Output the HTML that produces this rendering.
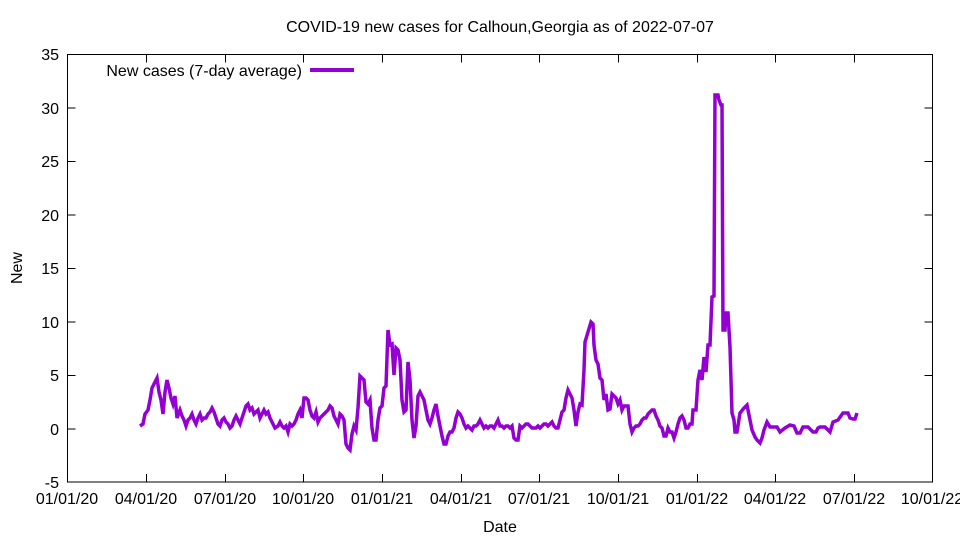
<!DOCTYPE html>
<html><head><meta charset="utf-8"><style>body{margin:0;background:#fff}svg{display:block}text{font-family:"Liberation Sans",sans-serif;font-size:16px;fill:#000}</style></head><body>
<svg width="960" height="540" viewBox="0 0 960 540">
<rect x="67.5" y="54.5" width="865" height="427.5" fill="none" stroke="#000" stroke-width="1"/>
<g stroke="#000" stroke-width="1">
<path d="M67.5 54.5h8M67.5 108h8M67.5 161.5h8M67.5 215h8M67.5 268.5h8M67.5 322h8M67.5 375.5h8M67.5 429h8M67.5 482h8"/>
<path d="M932.5 54.5h-8M932.5 108h-8M932.5 161.5h-8M932.5 215h-8M932.5 268.5h-8M932.5 322h-8M932.5 375.5h-8M932.5 429h-8"/>
<path d="M67.5 482v-8M146.5 482v-8M225.5 482v-8M303.5 482v-8M382.5 482v-8M461.5 482v-8M539.5 482v-8M618.5 482v-8M697.5 482v-8M775.5 482v-8M854.5 482v-8"/>
<path d="M67.5 54.5v8M146.5 54.5v8M225.5 54.5v8M303.5 54.5v8M382.5 54.5v8M461.5 54.5v8M539.5 54.5v8M618.5 54.5v8M697.5 54.5v8M775.5 54.5v8M854.5 54.5v8"/>
</g>
<g text-anchor="end">
<text x="59" y="60">35</text><text x="59" y="114">30</text><text x="59" y="167">25</text><text x="59" y="221">20</text><text x="59" y="274">15</text><text x="59" y="328">10</text><text x="59" y="381">5</text><text x="59" y="435">0</text><text x="59" y="488">-5</text>
</g>
<g text-anchor="middle">
<text x="67" y="504">01/01/20</text><text x="146" y="504">04/01/20</text><text x="225" y="504">07/01/20</text><text x="303" y="504">10/01/20</text><text x="382" y="504">01/01/21</text><text x="461" y="504">04/01/21</text><text x="539" y="504">07/01/21</text><text x="618" y="504">10/01/21</text><text x="697" y="504">01/01/22</text><text x="775" y="504">04/01/22</text><text x="854" y="504">07/01/22</text><text x="932" y="504">10/01/22</text>
<text x="500" y="532">Date</text>
<text x="500" y="32">COVID-19 new cases for Calhoun,Georgia as of 2022-07-07</text>
</g>
<text x="22" y="268" text-anchor="middle" transform="rotate(-90 22 268)">New</text>
<text x="302" y="76" text-anchor="end">New cases (7-day average)</text>
<path d="M310 70h44" stroke="#9400d3" stroke-width="4"/>
<polyline fill="none" stroke="#9400d3" stroke-width="3.5" stroke-linejoin="miter" points="140,426 143,424 145,414 148,410 150,400 152,388 155,382 157,378 159,392 161,400 163,414 165,392 167,380 169,388 171,398 173,404 175,396 177,418 180,410 182,416 184,420 186,426 188,420 190,418 192,414 194,420 196,424 198,418 200,414 202,420 204,418 206,418 208,414 210,412 212,408 214,412 216,418 218,424 220,426 222,420 224,418 226,422 228,424 230,428 232,426 234,420 236,416 238,420 240,424 242,418 244,412 246,406 248,404 250,410 252,408 254,414 256,412 258,410 260,418 262,414 264,410 266,414 268,412 270,418 272,422 275,428 278,426 280,422 282,426 284,428 286,426 288,432 290,424 292,426 294,424 296,420 298,414 300,410 302,418 304,398 306,398 308,400 310,410 312,416 314,418 316,412 318,422 320,418 322,416 324,414 326,412 328,410 330,406 332,408 334,416 336,420 338,424 340,414 342,416 344,420 346,444 348,448 350,450 352,434 354,426 356,430 358,408 360,376 362,378 364,380 366,402 368,404 370,400 372,428 374,440 376,440 378,420 380,408 382,406 384,388 386,386 388,330 390,345 392,344 394,375 396,348 398,350 400,360 402,400 404,412 406,410 408,362 410,380 412,420 414,438 416,426 418,396 420,392 422,396 424,400 426,410 428,420 430,424 432,418 434,410 436,404 438,416 440,426 442,436 444,444 446,444 448,436 450,432 452,432 454,428 456,418 458,412 460,414 462,418 464,424 466,428 468,426 470,428 472,430 474,426 476,426 478,424 480,420 482,424 484,428 486,426 488,428 490,426 492,426 494,428 496,424 498,420 500,426 502,426 504,428 506,426 508,426 510,428 512,426 514,438 516,440 518,440 520,426 522,428 524,426 526,424 528,424 530,426 532,428 534,428 536,428 538,426 540,428 542,426 544,424 546,424 548,426 550,424 552,422 554,426 556,428 558,428 560,420 562,412 564,410 566,398 568,390 570,394 572,398 574,410 576,426 578,412 580,404 582,405 584,370 585,342 588,332 591,322 593,324 594,345 596,360 598,364 600,378 602,380 604,400 606,394 608,410 610,409 612,394 614,396 616,398 618,404 620,400 622,410 624,406 626,406 628,406 630,424 632,432 634,428 636,426 638,426 640,424 642,420 644,418 646,418 648,414 650,412 652,410 654,410 656,416 658,420 660,426 662,428 664,436 666,436 668,428 670,432 672,432 674,438 676,432 678,424 680,418 682,416 684,420 686,428 688,428 690,424 692,424 693,410 696,410 698,380 700,370 702,380 704,357 706,372 708,345 710,345 712,297 714,296 715,95 718,95 719,100 721,105 722,105 723,330 725,330 726,313 728,313 730,347 732,413 734,420 735,432 737,432 740,413 744,408 747,405 749,415 752,430 755,437 757,440 760,443 762,438 764,430 767,422 770,427 774,427 777,427 780,432 785,428 790,425 794,426 797,433 800,433 803,427 808,427 813,432 816,432 818,428 820,427 825,427 830,432 833,422 838,420 843,413 848,413 850,418 853,419 855,419 857,413"/>
</svg>
</body></html>
